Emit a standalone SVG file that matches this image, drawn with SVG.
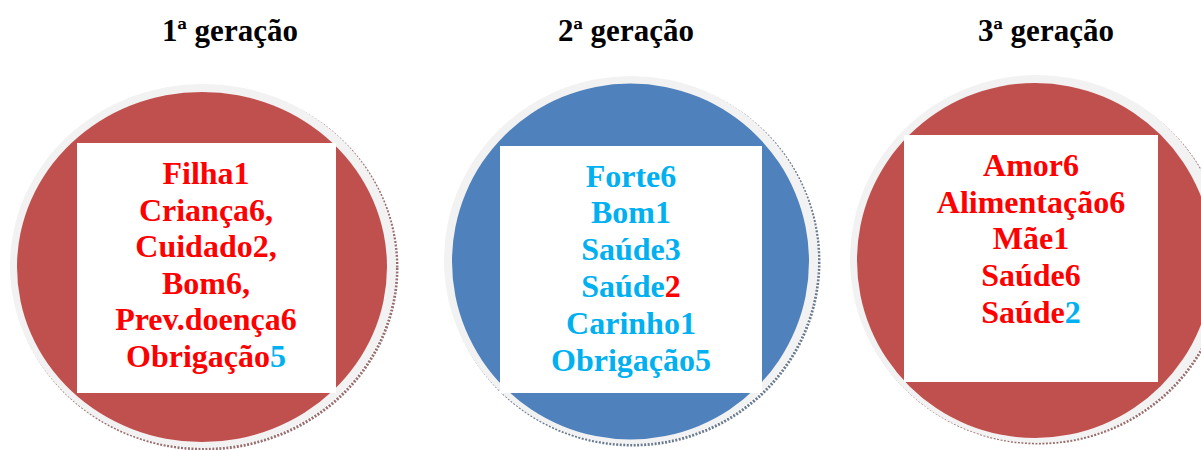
<svg xmlns="http://www.w3.org/2000/svg" width="1201" height="450" viewBox="0 0 1201 450">
<style>
.title{font-family:"Liberation Serif","Times New Roman",serif;font-weight:bold;font-size:31px;fill:#000;text-anchor:middle}
.t{font-family:"Liberation Serif","Times New Roman",serif;font-weight:bold;font-size:32px;text-anchor:middle}
.r{fill:#FF0000}
.c{fill:#00B0F0}
.ring{fill:#F2F2F2}
.shadowR{fill:none;stroke:#9A6E6E;stroke-width:3;stroke-dasharray:2 1.5}
.shadowB{fill:none;stroke:#6A7A90;stroke-width:3;stroke-dasharray:2 1.5}
.box{fill:#FFFFFF}
</style>
<rect width="1201" height="450" fill="#FFFFFF"/>
<g id="titles">
<text class="title" x="230" y="41">1ª geração</text>
<text class="title" x="626" y="41">2ª geração</text>
<text class="title" x="1046" y="41">3ª geração</text>
</g>
<g id="node1">
<ellipse class="shadowR" cx="205" cy="268" rx="192" ry="181"/>
<ellipse class="ring" cx="203" cy="266" rx="193" ry="182"/>
<ellipse cx="202" cy="267" rx="185" ry="175" fill="#C0504D"/>
<rect class="box" x="77" y="143" width="259" height="250"/>
<text class="t r" x="206" y="184">Filha1</text>
<text class="t r" x="206" y="220.5">Criança6,</text>
<text class="t r" x="206" y="257">Cuidado2,</text>
<text class="t r" x="206" y="293.5">Bom6,</text>
<text class="t r" x="206" y="330">Prev.doença6</text>
<text class="t r" x="206" y="367">Obrigação<tspan class="c">5</tspan></text>
</g>
<g id="node2">
<ellipse class="shadowB" cx="633" cy="262" rx="186" ry="183"/>
<ellipse class="ring" cx="631" cy="260" rx="187" ry="184"/>
<ellipse cx="630.5" cy="261.5" rx="178.5" ry="178" fill="#4F81BD"/>
<rect class="box" x="500" y="146" width="262" height="247"/>
<text class="t c" x="631" y="186.5">Forte6</text>
<text class="t c" x="631" y="223">Bom1</text>
<text class="t c" x="631" y="260">Saúde3</text>
<text class="t c" x="631" y="297">Saúde<tspan class="r">2</tspan></text>
<text class="t c" x="631" y="334">Carinho1</text>
<text class="t c" x="631" y="371">Obrigação5</text>
</g>
<g id="node3">
<ellipse class="shadowR" cx="1039" cy="261" rx="186" ry="182"/>
<ellipse class="ring" cx="1037" cy="259" rx="187" ry="184"/>
<ellipse cx="1035" cy="260.5" rx="178" ry="177.5" fill="#C0504D"/>
<rect class="box" x="904" y="135" width="254" height="247"/>
<text class="t r" x="1031" y="176">Amor6</text>
<text class="t r" x="1031" y="212.5">Alimentação6</text>
<text class="t r" x="1031" y="249">Mãe1</text>
<text class="t r" x="1031" y="286">Saúde6</text>
<text class="t r" x="1031" y="323">Saúde<tspan class="c">2</tspan></text>
</g>
<g id="connectors"/>
</svg>
